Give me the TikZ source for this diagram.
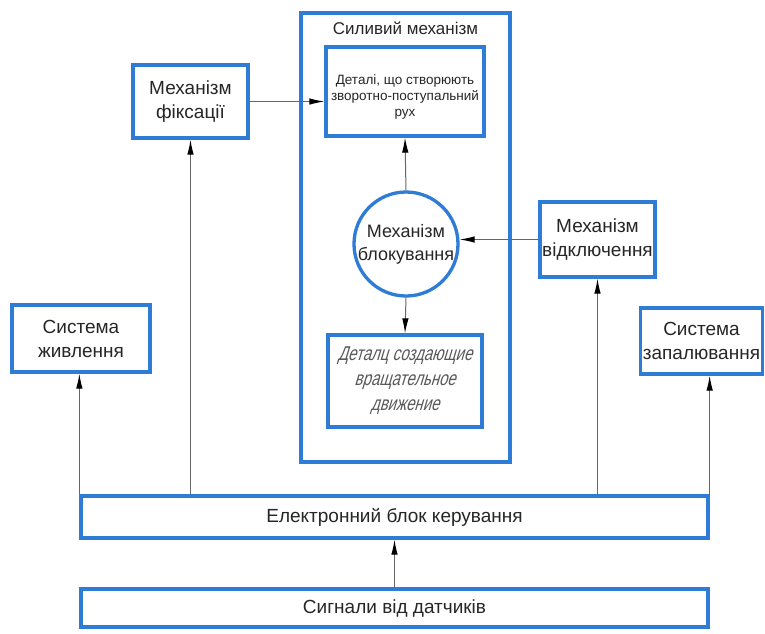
\documentclass[tikz,border=0pt]{standalone}
\usepackage{fontspec}
\setmainfont{Liberation Sans}
\newfontfamily\gostfont[FakeSlant=0.3,FakeStretch=0.75]{Liberation Sans}
\usetikzlibrary{arrows.meta, calc, positioning, shapes}
\definecolor{schemeblue}{RGB}{46,124,214}
\tikzset{
	block/.style={
		rectangle,
		draw=schemeblue, line width=3.3pt,
		fill=white,
		text=black!85,
		align=center,
		inner sep=2pt,
		font=\fontsize{19}{24}\selectfont
	},
	smalltext/.style={font=\fontsize{13.5}{16}\selectfont},
	gosttext/.style={text=black!65, font=\gostfont\fontsize{20}{25}\selectfont},
	lockcircle/.style={
		circle,
		draw=schemeblue, line width=3.3pt,
		fill=white,
		text=black!85,
		align=center,
		inner sep=0pt,
		minimum size=104pt,
		font=\fontsize{18}{23}\selectfont
	},
	link/.style={draw=black!60, line width=1pt, -{Latex[length=15pt,width=6.5pt,black]}}
}

\begin{document}
\begin{tikzpicture}[x=1pt,y=-1pt]
	\useasboundingbox (0,0) rectangle (765,633);

	\node[block, minimum width=209pt, minimum height=449pt] (force) at (405.5,237.5) {};
	\node[text=black!85, font=\fontsize{17}{20}\selectfont, below=7pt of force.north] (forcetitle) {Силивий механізм};

	\node[block, smalltext, minimum width=158pt, minimum height=89pt] (linear) at (405,91.5) {\rule{0pt}{20pt}Деталі, що створюють\\зворотно-поступальний\\рух};
	\node[lockcircle] (lock) at (406,244) {Механізм\\блокування};
	\node[block, gosttext, minimum width=154pt, minimum height=92pt] (rotary) at (405,381) {Деталц создающие\\вращательное\\движение};

	\node[block, minimum width=115pt, minimum height=73pt] (fixing) at (190.5,101.5) {Механізм\\фіксації};
	\node[block, minimum width=115pt, minimum height=75pt] (release) at (597.5,239.5) {Механізм\\відключення};
	\node[block, minimum width=138pt, minimum height=67pt] (supply) at (81,338.5) {Система\\живлення};
	\node[block, minimum width=122pt, minimum height=66pt] (ignition) at (701.5,341) {Система\\запалювання};

	\node[block, minimum width=627pt, minimum height=42pt] (ecu) at (394.5,517) {Електронний блок керування};
	\node[block, minimum width=627pt, minimum height=38pt] (sensors) at (394.5,608) {Сигнали від датчиків};

	\draw[link] (sensors) -- (ecu);
	\draw[link] (ecu.north west) -- (ecu.north west |- supply.south);
	\draw[link] (ecu.north -| fixing.south) -- (fixing.south);
	\draw[link] (ecu.north -| release.south) -- (release.south);
	\draw[link] (ecu.north east) -- (ecu.north east |- ignition.south);
	\draw[link] (fixing.east) -- (fixing.east -| linear.west);
	\draw[link] (release.west) -- (release.west -| lock.east);
	\draw[link] (lock.north) -- (linear.south);
	\draw[link] (lock.south) -- (rotary.north);
\end{tikzpicture}
\end{document}
